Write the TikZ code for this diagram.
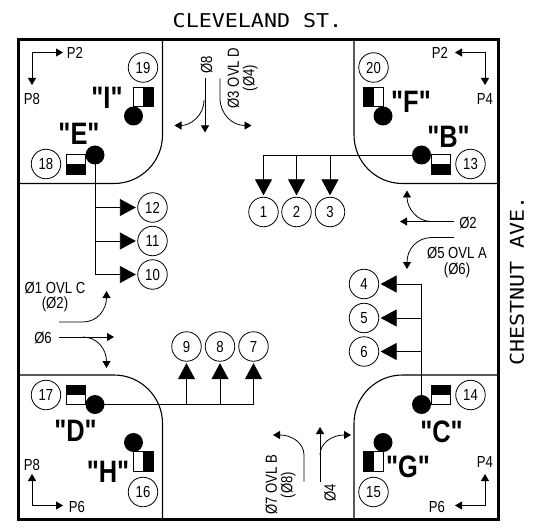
\documentclass[tikz,border=0pt]{standalone}
\usepackage{fontspec}
\usetikzlibrary{arrows.meta}
\newfontfamily\signfont[FakeStretch=0.82]{Liberation Sans}
\newfontfamily\streetfont[FakeStretch=1.14]{DejaVu Sans Mono}
\tikzset{
  numcirc/.style={draw,circle,line width=0.8pt,minimum size=29.5pt,inner sep=0pt,font=\signfont\fontsize{16}{16}\selectfont},
  sigdot/.style={circle,fill=black,minimum size=19pt,inner sep=0pt},
  sigbox/.style={draw,line width=0.8pt,minimum size=19.5pt,inner sep=0pt},
  blacktop/.style={sigbox,path picture={\fill (path picture bounding box.west) rectangle (path picture bounding box.north east);}},
  blackbottom/.style={sigbox,path picture={\fill (path picture bounding box.south west) rectangle (path picture bounding box.east);}},
  blackleft/.style={sigbox,path picture={\fill (path picture bounding box.south west) rectangle (path picture bounding box.north);}},
  blackright/.style={sigbox,path picture={\fill (path picture bounding box.south) rectangle (path picture bounding box.north east);}},
  headname/.style={inner sep=0pt,font=\signfont\bfseries\fontsize{31}{31}\selectfont},
  signtext/.style={inner sep=0pt,align=center,font=\signfont\fontsize{16}{15.5}\selectfont},
  streettext/.style={inner sep=0pt,font=\streetfont\fontsize{19}{20}\selectfont},
  armline/.style={line width=0.8pt},
  bigarrow/.style={line width=0.8pt,-{Triangle[length=16pt,width=17pt]},shorten >=1.5pt},
  smallarrow/.style={line width=0.8pt,-{Triangle[length=7pt,width=8pt]}},
  pedarrow/.style={line width=0.8pt,{Triangle[length=7pt,width=8pt]}-{Triangle[length=7pt,width=8pt]}},
  border/.style={line width=1.1pt},
}
\begin{document}
\begin{tikzpicture}[x=1pt,y=-1pt]
\useasboundingbox (0,0) rectangle (540,529);
% street names
\node[streettext] (cleveland) at (257.5,21) {CLEVELAND ST.};
\node[streettext,rotate=90] (chestnut) at (517,281) {CHESTNUT AVE.};
% corners
\draw[border] (162.5,39.5) -- (162.5,135) arc[start angle=0,end angle=90,radius=48.5] -- (18.5,183.5);
\draw[border] (354,39.5) -- (354,135) arc[start angle=180,end angle=90,radius=48.5] -- (498,183.5);
\draw[border] (18.5,375) -- (114,375) arc[start angle=-90,end angle=0,radius=48.5] -- (162.5,519);
\draw[border] (498,375) -- (402.5,375) arc[start angle=-90,end angle=-180,radius=48.5] -- (354,519);
\draw[line width=3pt] (18.5,39.5) rectangle (498,519);
% signal numbers
\foreach \num/\px/\py in {19/143/67.5,18/46/164,20/373.5/67.5,13/470.5/164,
  12/152.5/207.5,11/152.5/241,10/152.5/274.5,1/263.5/212,2/296.5/212,3/330/212,
  4/364/284,5/364/318,6/364/351.5,9/186.5/346.5,8/220/346.5,7/253.5/346.5,
  17/46/395,16/143/492,14/470.5/395,15/373.5/492}
  \node[numcirc] (n\num) at (\px,\py) {\num};
% signal heads
\node[blackright] (boxI) at (143.2,97) {};
\node[blackbottom] (boxE) at (76,164.3) {};
\node[blackleft] (boxF) at (373.5,97) {};
\node[blackbottom] (boxB) at (441,164.3) {};
\node[blacktop] (boxC) at (441,394.8) {};
\node[blackleft] (boxG) at (373.5,461.2) {};
\node[blacktop] (boxD) at (76,394.8) {};
\node[blackright] (boxH) at (143.2,461.2) {};
\node[sigdot] (headI) at (133.5,116) {};
\node[sigdot] (headE) at (95,155) {};
\node[sigdot] (headF) at (383,116) {};
\node[sigdot] (headB) at (421.5,155) {};
\node[sigdot] (headC) at (421.5,404.5) {};
\node[sigdot] (headG) at (383,442.5) {};
\node[sigdot] (headD) at (95,404.5) {};
\node[sigdot] (headH) at (133.5,442.5) {};
% head names
\node[headname] (nameI) at (107,98) {"I"};
\node[headname] (nameE) at (79,134) {"E"};
\node[headname] (nameF) at (411,102) {"F"};
\node[headname] (nameB) at (448.5,137) {"B"};
\node[headname] (nameC) at (441.5,432) {"C"};
\node[headname] (nameG) at (408,467) {"G"};
\node[headname] (nameD) at (75.5,431) {"D"};
\node[headname] (nameH) at (108,472) {"H"};
% mast arms
\draw[armline] (headE.center) -- (headE.center |- n10);
\foreach \num in {12,11,10}
  \draw[bigarrow] (headE.center |- n\num) -- (n\num.west);
\draw[armline] (headB.center) -- (n1.north |- headB.center);
\foreach \num in {1,2,3}
  \draw[bigarrow] (n\num.north |- headB.center) -- (n\num.north);
\draw[armline] (headC.center) -- (headC.center |- n4);
\foreach \num in {4,5,6}
  \draw[bigarrow] (headC.center |- n\num) -- (n\num.east);
\draw[armline] (headD.center) -- (n7.south |- headD.center);
\foreach \num in {9,8,7}
  \draw[bigarrow] (n\num.south |- headD.center) -- (n\num.south);
% pedestrian signals
\node[signtext] (pedTLh) at (75,52.7) {P2};
\node[signtext] (pedTLv) at (32,98.5) {P8};
\node[signtext] (pedTRh) at (440,52.7) {P2};
\node[signtext] (pedTRv) at (485,98.5) {P4};
\node[signtext] (pedBLv) at (32,465) {P8};
\node[signtext] (pedBLh) at (77,506.5) {P6};
\node[signtext] (pedBRv) at (485,461.5) {P4};
\node[signtext] (pedBRh) at (437,506.5) {P6};
\draw[pedarrow] (32,85) -- (32,52.5) -- (63,52.5);
\draw[pedarrow] (455,52.5) -- (485,52.5) -- (485,85);
\draw[pedarrow] (32,474) -- (32,505.5) -- (63,505.5);
\draw[pedarrow] (485,474) -- (485,505.5) -- (455,505.5);
% phase labels
\node[signtext,rotate=90] (ph8) at (206.5,65) {Ø8};
\node[signtext,rotate=90] (ph3) at (242.5,78) {Ø3 OVL D\\(Ø4)};
\node[signtext] (ph2) at (468,222.5) {Ø2};
\node[signtext] (ph5) at (457,262.5) {Ø5 OVL A\\(Ø6)};
\node[signtext] (ph1) at (55,297) {Ø1 OVL C\\(Ø2)};
\node[signtext] (ph6) at (43,337.5) {Ø6};
\node[signtext,rotate=90] (ph7) at (280.5,485) {Ø7 OVL B\\(Ø8)};
\node[signtext,rotate=90] (ph4) at (330,493) {Ø4};
% movement arrows
\draw[smallarrow] (205,78) -- (205,132.5);
\draw[smallarrow] (204,100) .. controls (204,116) and (190,125.5) .. (174.5,125.5);
\draw[smallarrow] (220,78.5) -- (220,98) .. controls (220,114) and (232,125.5) .. (251.5,125.5);
\draw[smallarrow] (454,221.5) -- (400,221.5);
\draw[smallarrow] (431,221.5) .. controls (417,221.5) and (407,208) .. (407,190.5);
\draw[smallarrow] (454,237.5) -- (432,237.5) .. controls (417,237.5) and (407,249) .. (407,269);
\draw[smallarrow] (59,322) -- (83,322) .. controls (97,322) and (106.5,310) .. (106.5,291);
\draw[smallarrow] (59,337) -- (114,337);
\draw[smallarrow] (83,337) .. controls (97,337) and (106.5,349) .. (106.5,368);
\draw[smallarrow] (304,481.5) -- (304,455) .. controls (304,443) and (292,435) .. (273,435);
\draw[smallarrow] (320,481.5) -- (320,427);
\draw[smallarrow] (320,455) .. controls (320,443) and (332,435) .. (351,435);
\end{tikzpicture}
\end{document}
